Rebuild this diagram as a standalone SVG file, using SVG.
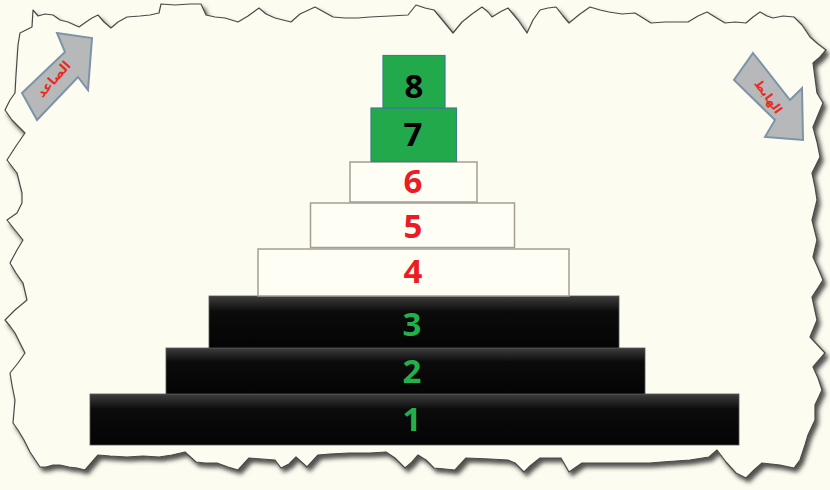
<svg xmlns="http://www.w3.org/2000/svg" width="830" height="490" viewBox="0 0 830 490">
<defs>
<style>
.num{font-family:"Open Sans","DejaVu Sans",sans-serif;font-weight:700;font-size:33px;text-anchor:middle}
.red{fill:#ec1c24}
.grn{fill:#22b04b}
.blk{fill:#000}
.gbox{fill:#22a94b;stroke:#3a7f8c;stroke-width:1.2}
.wbox{fill:#fefef4;stroke:#a59d96;stroke-width:1.5}
.bbar{fill:url(#barGrad);stroke:#555;stroke-width:0.8}
.arrow{fill:#b7b8b9;stroke:#7d93a8;stroke-width:2;stroke-linejoin:miter}
.atext{font-family:"DejaVu Sans",sans-serif;font-weight:700;fill:#ec2a22;text-anchor:middle}
</style>
<linearGradient id="barGrad" x1="0" y1="0" x2="0" y2="1">
<stop offset="0" stop-color="#3e3e3e"/>
<stop offset="0.3" stop-color="#0b0b0b"/>
<stop offset="1" stop-color="#040404"/>
</linearGradient>
<filter id="shadow" x="-5%" y="-5%" width="110%" height="115%">
<feGaussianBlur in="SourceAlpha" stdDeviation="2"/>
<feOffset dx="3" dy="4" result="b"/>
<feFlood flood-color="#333" flood-opacity="0.85"/>
<feComposite in2="b" operator="in"/>
<feMerge><feMergeNode/><feMergeNode in="SourceGraphic"/></feMerge>
</filter>
</defs>
<rect width="830" height="490" fill="#fdfcf0"/>
<g id="paper">
<path filter="url(#shadow)" fill="#fdfcf0" stroke="#4a4a4a" stroke-width="1.2" stroke-linejoin="round" d="M33,10 L38,16 L45,14 L53,15 L60,20 L68,22 L79,27 L86,22 L92,18 L98,15 L104,22 L111,28 L118,22 L127,17 L140,16 L150,15 L159,13 L161,4 L175,5 L190,4 L201,4 L206,15 L215,17 L225,18 L238,22 L248,16 L259,8 L266,14 L275,18 L283,20 L291,22 L300,14 L315,7 L324,12 L333,17 L345,18 L358,18 L370,17 L390,16 L408,15 L416,5 L425,8 L434,10 L444,22 L453,33 L462,22 L472,14 L482,7 L488,12 L492,17 L500,12 L508,8 L518,20 L527,33 L533,20 L540,10 L548,8 L556,7 L563,16 L569,23 L580,14 L590,7 L600,10 L609,12 L622,14 L635,13 L643,18 L651,23 L665,22 L676,22 L688,22 L698,16 L707,12 L715,17 L725,23 L735,22 L746,23 L753,17 L760,12 L767,16 L773,18 L783,16 L794,17 L802,25 L810,37 L818,44 L826,50 L820,57 L813,63 L815,78 L817,93 L823,103 L818,115 L813,127 L817,142 L820,157 L812,173 L815,187 L817,200 L812,220 L817,240 L813,257 L818,268 L823,280 L812,297 L817,320 L810,337 L825,353 L813,367 L818,378 L822,390 L815,405 L815,420 L808,435 L805,445 L800,460 L794,468 L780,465 L762,463 L754,470 L746,478 L736,473 L726,462 L717,450 L709,457 L690,460 L662,462 L650,463 L635,463 L610,463 L582,463 L569,472 L561,458 L550,458 L540,458 L530,466 L524,472 L515,463 L508,460 L490,459 L466,458 L455,470 L445,469 L434,468 L426,460 L418,455 L412,462 L405,468 L395,458 L386,452 L370,453 L349,453 L330,454 L318,455 L307,467 L296,457 L289,464 L281,468 L275,460 L262,459 L249,458 L238,470 L228,467 L217,463 L205,463 L196,462 L185,452 L172,455 L159,457 L143,456 L127,457 L110,456 L98,455 L85,470 L77,468 L69,467 L60,465 L53,465 L46,467 L40,467 L30,452 L24,440 L18,430 L13,423 L15,400 L12,385 L10,373 L18,363 L25,353 L20,343 L15,333 L10,326 L5,320 L15,310 L27,300 L23,283 L16,273 L10,263 L17,250 L23,240 L15,230 L7,220 L17,213 L22,203 L22,193 L17,173 L7,160 L16,146 L25,133 L12,120 L5,110 L10,100 L15,93 L16,75 L17,60 L18,45 L20,33 L32,27 Z"/>
</g>
<g id="arrow-up">
<polygon class="arrow" points="22,93 65,52 57,33 92,38 88,90 78,77 37,120"/>
<text class="atext" font-size="13" transform="translate(57,82) rotate(-48)">الصاعد</text>
</g>
<g id="arrow-down">
<polygon class="arrow" points="753,53 790,100 802,88 803,140 765,137 775,120 734,80"/>
<text class="atext" font-size="12" transform="translate(765,99) rotate(54)">الهابط</text>
</g>
<g id="level-1">
<rect class="bbar" x="90" y="394" width="649" height="51"/>
<text class="num grn" x="412" y="431">1</text>
</g>
<g id="level-2">
<rect class="bbar" x="166" y="348" width="479" height="46"/>
<text class="num grn" x="412" y="383">2</text>
</g>
<g id="level-3">
<rect class="bbar" x="209" y="296" width="410" height="52"/>
<text class="num grn" x="412" y="336">3</text>
</g>
<g id="level-4">
<rect class="wbox" x="258" y="249" width="311" height="47"/>
<text class="num red" x="413" y="283">4</text>
</g>
<g id="level-5">
<rect class="wbox" x="310.5" y="203" width="204" height="44.5"/>
<text class="num red" x="413" y="238">5</text>
</g>
<g id="level-6">
<rect class="wbox" x="350" y="162" width="127" height="40"/>
<text class="num red" x="413" y="193">6</text>
</g>
<g id="level-7">
<rect class="gbox" x="371" y="108" width="85.5" height="53.5"/>
<text class="num blk" x="413" y="146">7</text>
</g>
<g id="level-8">
<rect class="gbox" x="383" y="55.5" width="62" height="52.5"/>
<text class="num blk" x="414" y="98">8</text>
</g>
</svg>
